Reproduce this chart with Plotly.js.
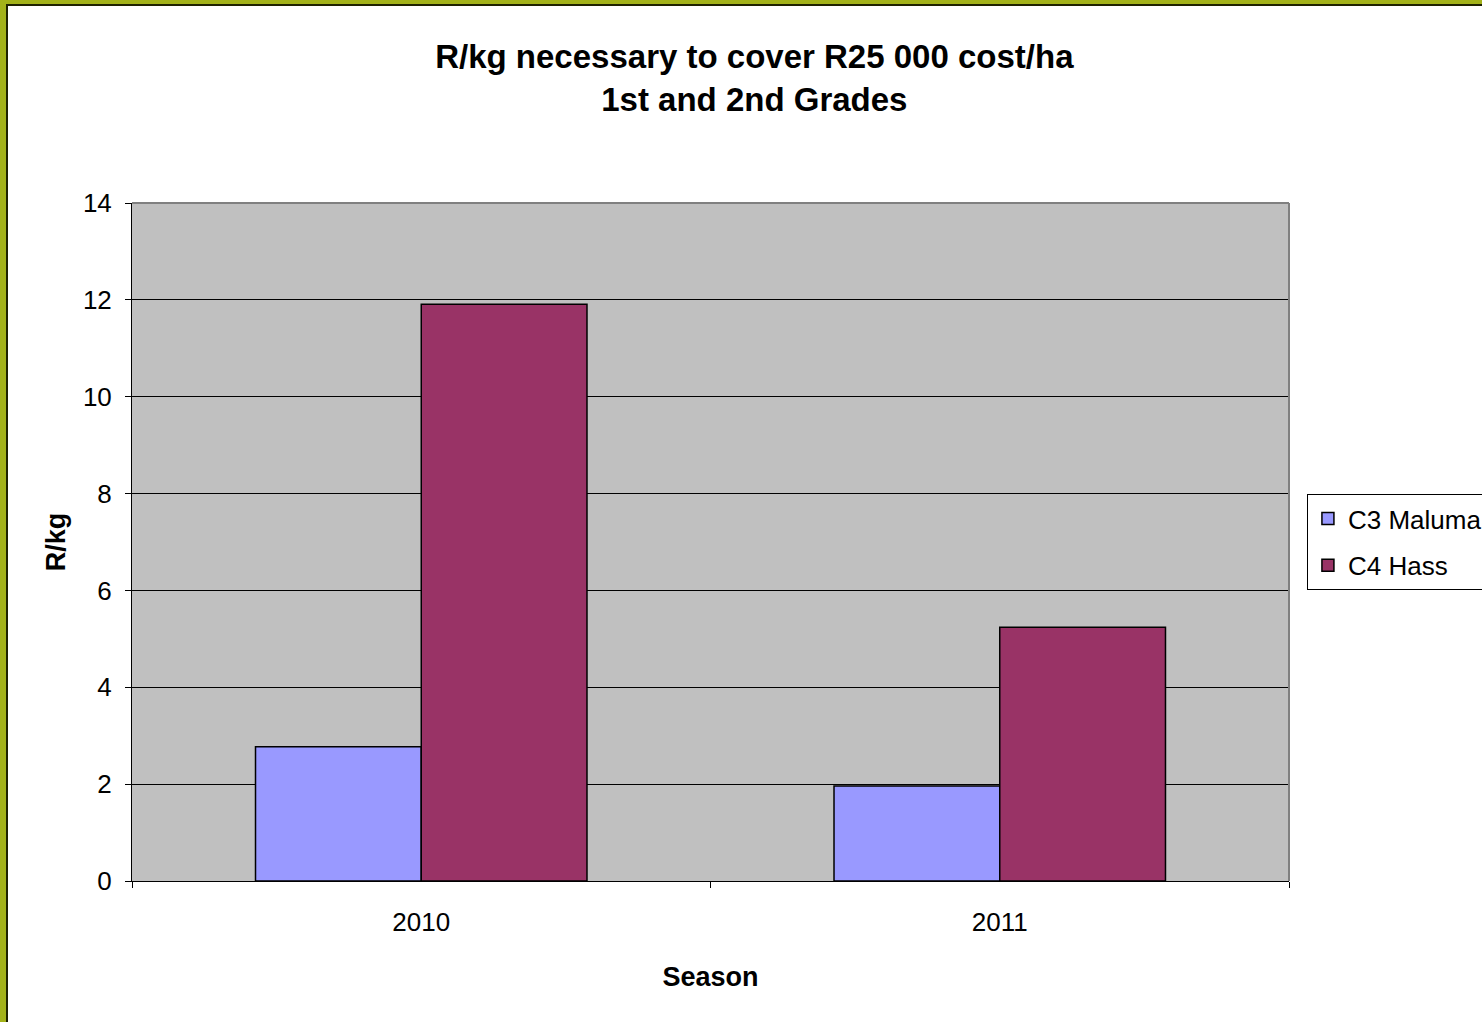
<!DOCTYPE html>
<html>
<head>
<meta charset="utf-8">
<script src="https://cdn.plot.ly/plotly-3.0.1.min.js"></script>
<style>
html,body{margin:0;padding:0;background:#fff;overflow:hidden;}
#chart{width:1482px;height:1022px;position:absolute;left:0;top:0;}
#frame{position:absolute;left:0;top:0;width:1482px;height:1022px;pointer-events:none;box-sizing:border-box;
 border-left:6px solid #a3b219;border-top:4px solid #a3b219;}
#frame2{position:absolute;left:6px;top:4px;width:1476px;height:1018px;pointer-events:none;box-sizing:border-box;
 border-left:2px solid #1e2200;border-top:2px solid #1e2200;}
</style>
</head>
<body>
<div id="chart"></div>
<div id="frame"></div>
<div id="frame2"></div>
<script>
var seasons = ["2010", "2011"];
var seriesNames = ["C3 Maluma", "C4 Hass"];
var c3Maluma = [2.77, 1.96];
var c4Hass = [11.91, 5.24];
var seriesColors = ["#9999ff", "#993366"];

var font = "Liberation Sans, Arial, sans-serif";

var traces = [
  {type: "bar", name: seriesNames[0], x: seasons, y: c3Maluma, legendgroup: "a",
   marker: {color: seriesColors[0], line: {color: "#000", width: 1.5}}},
  {type: "bar", name: seriesNames[1], x: seasons, y: c4Hass, legendgroup: "b",
   marker: {color: seriesColors[1], line: {color: "#000", width: 1.5}}}
];

var layout = {
  width: 1482, height: 1022,
  margin: {l: 132, r: 193, t: 203, b: 141, autoexpand: false},
  paper_bgcolor: "#ffffff",
  plot_bgcolor: "#c0c0c0",
  font: {family: font, color: "#000"},
  title: {
    text: "<b>R/kg necessary to cover R25 000 cost/ha<br>1st and 2nd Grades</b>",
    font: {family: font, size: 33, color: "#000"},
    x: 0.509, xanchor: "center", y: 0.933, yanchor: "top"
  },
  barmode: "group",
  bargap: 0.427,
  bargroupgap: 0,
  xaxis: {
    type: "category",
    tickson: "boundaries",
    ticks: "outside", ticklen: 6, tickcolor: "#000", tickwidth: 1,
    showline: true, linecolor: "#000", linewidth: 1,
    showgrid: false,
    tickfont: {size: 26, family: font},
    ticklabelstandoff: 18,
    title: {text: "<b>Season</b>", font: {size: 27, family: font}, standoff: 30}
  },
  yaxis: {
    range: [0, 14], dtick: 2,
    ticks: "outside", ticklen: 6, tickcolor: "#000", tickwidth: 1,
    showline: true, linecolor: "#000", linewidth: 1,
    showgrid: true, gridcolor: "#000", gridwidth: 1,
    zeroline: false,
    tickfont: {size: 26, family: font},
    ticklabelstandoff: 8,
    title: {text: "<b>R/kg</b>", font: {size: 27, family: font}, standoff: 9}
  },
  legend: {
    x: 1.0155, xanchor: "left", y: 0.5, yanchor: "middle",
    bgcolor: "#ffffff", bordercolor: "#000", borderwidth: 1,
    tracegroupgap: 10,
    font: {size: 26, family: font}
  },
  shapes: [
    {type: "line", xref: "paper", yref: "paper", x0: 0, x1: 1, y0: 1, y1: 1, line: {color: "#808080", width: 2}},
    {type: "line", xref: "paper", yref: "paper", x0: 1, x1: 1, y0: 0, y1: 1, line: {color: "#808080", width: 2}}
  ]
};

Plotly.newPlot("chart", traces, layout, {displayModeBar: false, staticPlot: true});
</script>
</body>
</html>
